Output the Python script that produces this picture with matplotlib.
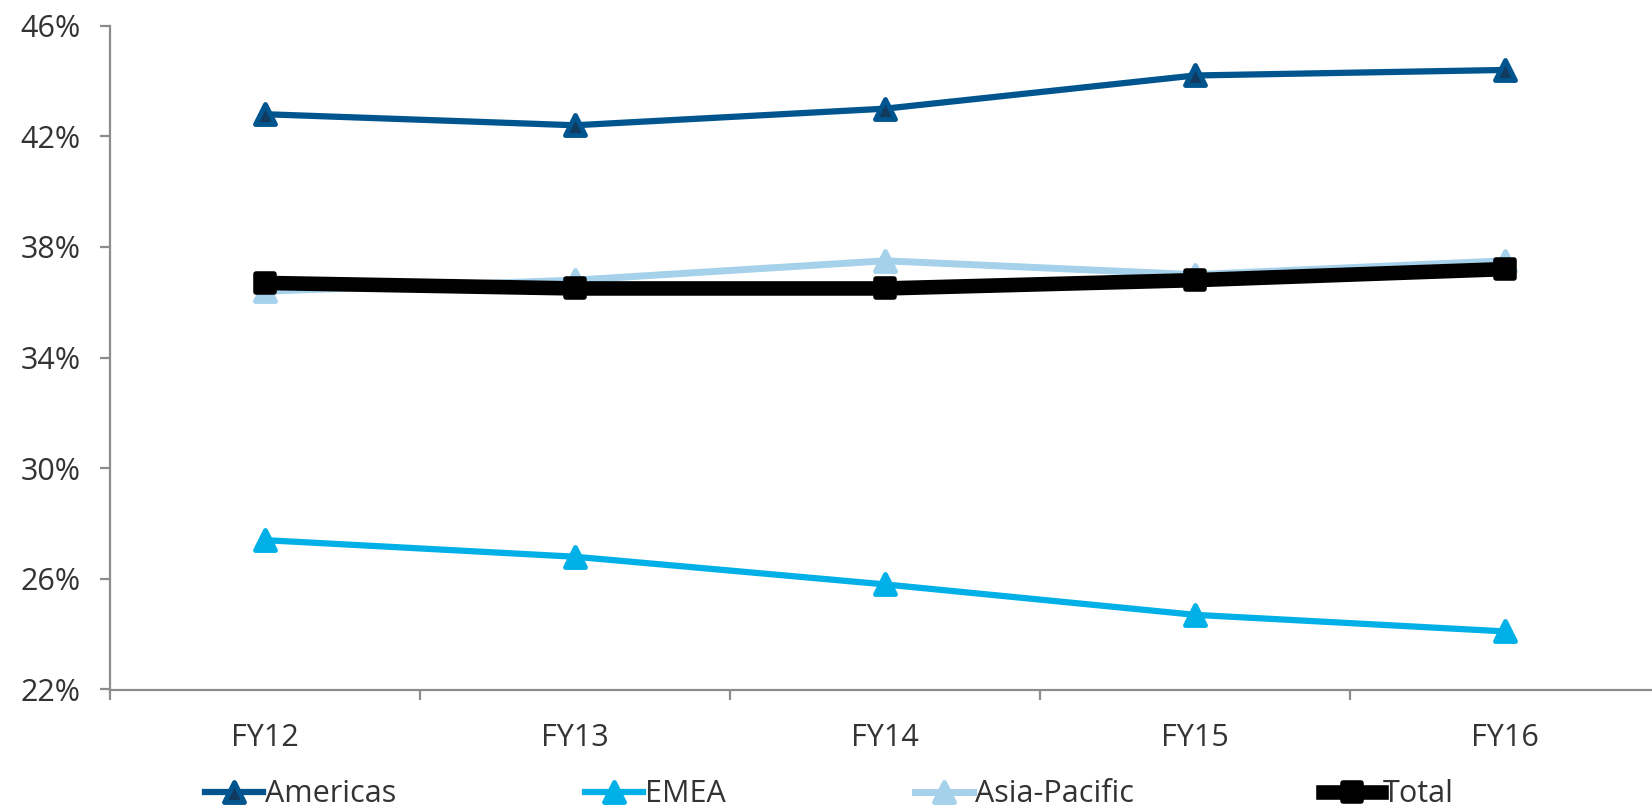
import matplotlib
matplotlib.use("Agg")
import matplotlib.pyplot as plt
from matplotlib.markers import MarkerStyle
from matplotlib.ticker import FixedLocator, FuncFormatter
import numpy as np

plt.rcParams['font.family'] = ['Open Sans', 'DejaVu Sans']

years = ["FY12", "FY13", "FY14", "FY15", "FY16"]
americas = [42.8, 42.4, 43.0, 44.2, 44.4]
emea = [27.4, 26.8, 25.8, 24.7, 24.1]
asia_pacific = [36.4, 36.8, 37.5, 37.0, 37.5]
total = [36.7, 36.5, 36.5, 36.8, 37.2]
y_ticks = [22, 26, 30, 34, 38, 42, 46]

fig = plt.figure(figsize=(16.52, 8.09), dpi=100)
W, H = 1652, 809
ax = fig.add_axes([110 / W, (H - 689.5) / H, (1660 - 110) / W, (689.5 - 25.7) / H])

x = np.arange(len(years))
tri = MarkerStyle('^', joinstyle='round')
sq = MarkerStyle('s', joinstyle='round')

ax.plot(x, americas, color='#00558f', lw=4.5, marker=tri, ms=14,
        mfc='#123a5e', mec='#00558f', mew=3.5, label='Americas', zorder=3)
ax.plot(x, emea, color='#00b0e6', lw=4.5, marker=tri, ms=14,
        mfc='#00b0e6', mec='#00b0e6', mew=3.5, label='EMEA', zorder=3)
ax.plot(x, asia_pacific, color='#a6d1ea', lw=5, marker=tri, ms=14,
        mfc='#a6d1ea', mec='#a6d1ea', mew=3.5, label='Asia-Pacific', zorder=3)
ax.plot(x, total, color='black', lw=10.5, marker=sq, ms=13,
        mfc='black', mec='black', mew=4, label='Total', zorder=4)

ax.set_xlim(-0.5, len(years) - 0.5)
ax.set_ylim(22, 46)
ax.yaxis.set_major_locator(FixedLocator(y_ticks))
ax.yaxis.set_major_formatter(FuncFormatter(lambda v, p: f"{v:.0f}%"))

ax.set_xticks(x)
ax.set_xticklabels(years)
ax.xaxis.set_minor_locator(FixedLocator(np.arange(len(years) + 1) - 0.5))

spine_c = '#8c8c8c'
for s in ['top', 'right']:
    ax.spines[s].set_visible(False)
for s in ['left', 'bottom']:
    ax.spines[s].set_color(spine_c)
    ax.spines[s].set_linewidth(1.6)
    ax.spines[s].set_clip_on(False)

ax.tick_params(axis='y', length=7, width=1.6, color=spine_c, pad=14,
               labelsize=22, labelcolor='#333333')
ax.tick_params(axis='x', which='major', length=0, pad=24,
               labelsize=22, labelcolor='#333333')
ax.tick_params(axis='x', which='minor', length=7, width=1.6, color=spine_c)

leg = fig.legend(loc='center', bbox_to_anchor=(0.502, 0.018), ncol=4,
                 frameon=False, fontsize=22, handlelength=1.9,
                 handletextpad=0.05, columnspacing=6.2, labelcolor='#333333',
                 borderaxespad=0)

fig.savefig('out.png', dpi=100)
